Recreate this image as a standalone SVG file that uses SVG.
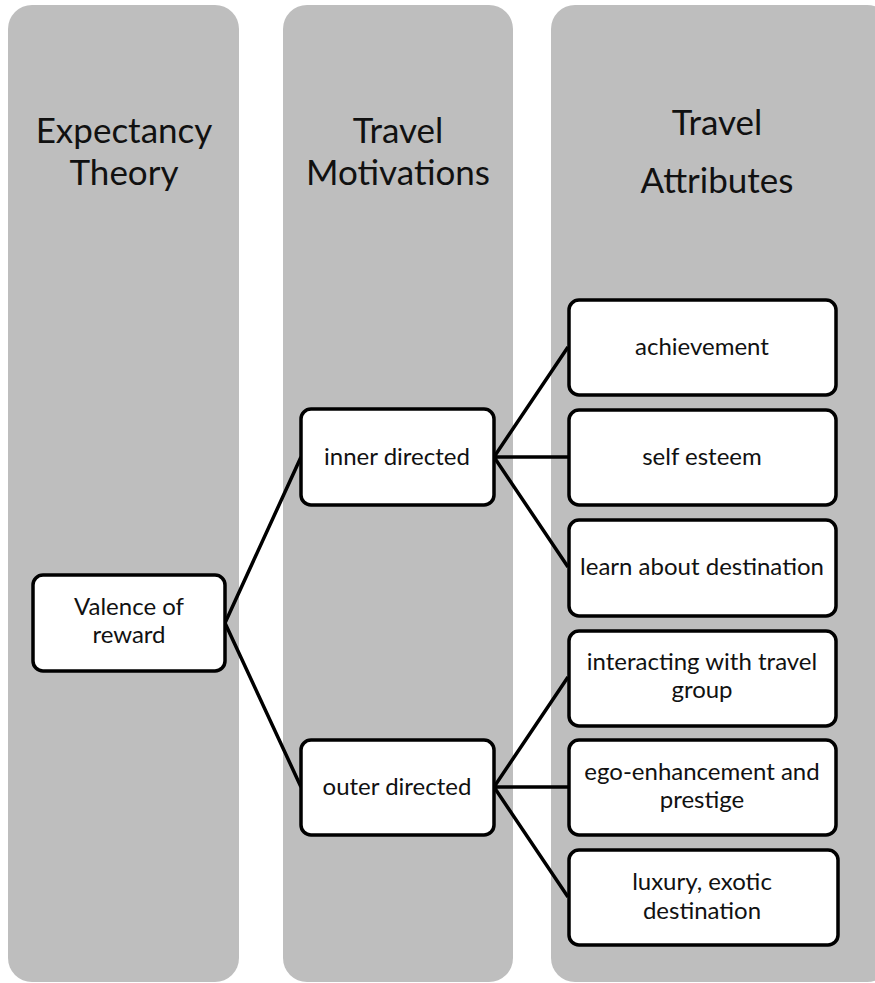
<svg xmlns="http://www.w3.org/2000/svg" width="875" height="983" viewBox="0 0 875 983">
<style>
.col{fill:#bebebe}
.title{font-family:Lato,"Open Sans","Liberation Sans",sans-serif;font-size:35px;fill:#111;text-anchor:middle}
.box{fill:#fff;stroke:#000;stroke-width:3.5}
.lbl{font-family:Lato,"Open Sans","Liberation Sans",sans-serif;font-size:24px;fill:#111;text-anchor:middle}
.conn{stroke:#000;stroke-width:3.5;fill:none}
</style>
<rect x="0" y="0" width="875" height="983" fill="#fff"/>
<g id="col-expectancy">
<rect class="col" x="8" y="5" width="231" height="977" rx="24"/>
<text class="title" x="124" y="143">Expectancy</text>
<text class="title" x="124" y="185">Theory</text>
</g>
<g id="col-motivations">
<rect class="col" x="283" y="5" width="230" height="977" rx="24"/>
<text class="title" x="398" y="143">Travel</text>
<text class="title" x="398" y="185">Motivations</text>
</g>
<g id="col-attributes">
<rect class="col" x="551" y="5" width="340" height="977" rx="24"/>
<text class="title" x="717" y="135">Travel</text>
<text class="title" x="717" y="193">Attributes</text>
</g>
<g id="connectors">
<path class="conn" d="M225,623 L301,457 M225,623 L301,787"/>
<path class="conn" d="M494,457 L568,347 M494,457 L568,457 M494,457 L568,567"/>
<path class="conn" d="M494,787 L568,677 M494,787 L568,787 M494,787 L568,897"/>
</g>
<g id="valence">
<rect class="box" x="33" y="575" width="192" height="96" rx="10"/>
<text class="lbl" x="129" y="615">Valence of</text>
<text class="lbl" x="129" y="643">reward</text>
</g>
<g id="inner">
<rect class="box" x="301" y="409" width="193" height="96" rx="10"/>
<text class="lbl" x="397" y="465">inner directed</text>
</g>
<g id="outer">
<rect class="box" x="301" y="740" width="193" height="95" rx="10"/>
<text class="lbl" x="397" y="795">outer directed</text>
</g>
<g id="achievement">
<rect class="box" x="569" y="300" width="267" height="95" rx="10"/>
<text class="lbl" x="702" y="355">achievement</text>
</g>
<g id="self-esteem">
<rect class="box" x="569" y="410" width="267" height="95" rx="10"/>
<text class="lbl" x="702" y="465">self esteem</text>
</g>
<g id="learn">
<rect class="box" x="569" y="520" width="267" height="96" rx="10"/>
<text class="lbl" x="702" y="575">learn about destination</text>
</g>
<g id="interacting">
<rect class="box" x="569" y="631" width="267" height="95" rx="10"/>
<text class="lbl" x="702" y="670">interacting with travel</text>
<text class="lbl" x="702" y="698">group</text>
</g>
<g id="ego">
<rect class="box" x="569" y="740" width="267" height="95" rx="10"/>
<text class="lbl" x="702" y="780">ego-enhancement and</text>
<text class="lbl" x="702" y="808">prestige</text>
</g>
<g id="luxury">
<rect class="box" x="569" y="850" width="269" height="95" rx="10"/>
<text class="lbl" x="702" y="890">luxury, exotic</text>
<text class="lbl" x="702" y="919">destination</text>
</g>
</svg>
